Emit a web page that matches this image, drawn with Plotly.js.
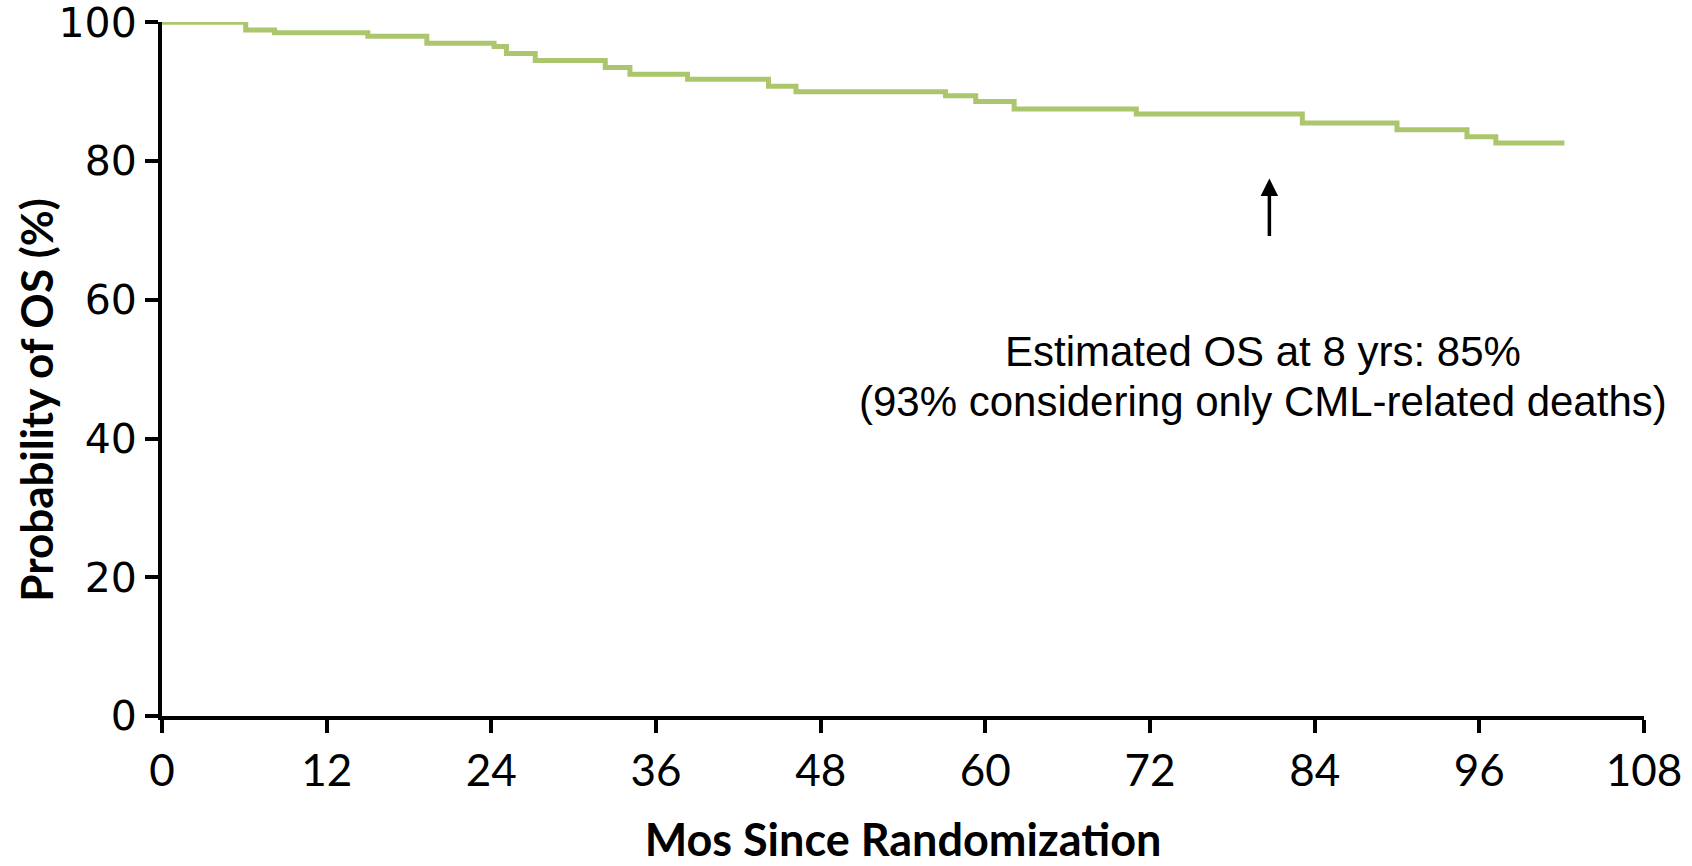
<!DOCTYPE html>
<html>
<head>
<meta charset="utf-8">
<script src="https://cdn.plot.ly/plotly-3.0.1.min.js"></script>
<style>html,body{margin:0;padding:0;background:#fff;}#chart{width:1692px;height:866px;}</style>
</head>
<body>
<div id="chart"></div>
<script>
// Kaplan-Meier step curve (months, OS %)
var months = [0, 6.1, 8.2, 15.0, 19.3, 24.2, 25.1, 27.2, 32.3, 34.1, 38.3, 44.2, 46.2, 57.1, 59.3, 62.1, 71.0, 83.1, 90.0, 95.1, 97.2, 102.2];
var osPct  = [100, 98.9, 98.5, 98.0, 97.0, 96.5, 95.5, 94.5, 93.5, 92.5, 91.8, 90.8, 90.0, 89.4, 88.6, 87.5, 86.8, 85.5, 84.5, 83.5, 82.6, 82.6];
var xTicks = [0, 12, 24, 36, 48, 60, 72, 84, 96, 108];
var yTicks = [0, 20, 40, 60, 80, 100];
var noteLine1 = "Estimated OS at 8 yrs: 85%";
var noteLine2 = "(93% considering only CML-related deaths)";
var yTitle = "Probability of OS (%)";
var xTitle = "Mos Since Randomization";
var arrowAt = {x: 80.7, yTip: 77.5, yTail: 69};

var trace = {
  x: months, y: osPct, type: 'scatter', mode: 'lines',
  line: {shape: 'hv', color: '#abc66c', width: 5},
  cliponaxis: false,
  hoverinfo: 'x+y'
};

var noteFont = {family: 'Liberation Sans, Arial, sans-serif', size: 42, color: '#000'};

var layout = {
  width: 1692, height: 866,
  paper_bgcolor: '#fff', plot_bgcolor: '#fff',
  margin: {l: 162, r: 48, t: 22, b: 150},
  showlegend: false,
  xaxis: {
    range: [0, 108], tickvals: xTicks, ticktext: xTicks.map(String),
    showline: true, linecolor: '#000', linewidth: 4,
    ticks: 'outside', ticklen: 13, tickwidth: 4, tickcolor: '#000',
    showgrid: false, zeroline: false, ticklabeloverflow: 'allow',
    tickfont: {family: 'Liberation Sans Narrow, Lato, sans-serif', size: 44, color: '#000'},
    title: {text: xTitle, standoff: 40,
            font: {family: 'Lato, sans-serif', size: 45, color: '#000', weight: 'bold'}},
    fixedrange: true
  },
  yaxis: {
    range: [0, 100.05], tickvals: yTicks, ticktext: yTicks.map(String),
    showline: true, linecolor: '#000', linewidth: 4,
    ticks: 'outside', ticklen: 13, tickwidth: 4, tickcolor: '#000',
    showgrid: false, zeroline: false, ticklabeloverflow: 'allow',
    tickfont: {family: 'DejaVu Sans, sans-serif', size: 41, color: '#000'},
    fixedrange: true
  },
  annotations: [
    {x: 0, y: 45.6, xref: 'paper', yref: 'y', xanchor: 'center', yanchor: 'middle',
     xshift: -126, text: yTitle, textangle: -90, showarrow: false,
     font: {family: 'Lato, sans-serif', size: 44, color: '#000', weight: 'bold'}},
    {x: 80.2, y: 52.6, xref: 'x', yref: 'y', text: noteLine1, showarrow: false,
     xanchor: 'center', yanchor: 'middle', font: noteFont},
    {x: 80.2, y: 45.3, xref: 'x', yref: 'y', text: noteLine2, showarrow: false,
     xanchor: 'center', yanchor: 'middle', font: noteFont},
    {x: arrowAt.x, y: arrowAt.yTip, ax: arrowAt.x, ay: arrowAt.yTail, xref: 'x', yref: 'y',
     axref: 'x', ayref: 'y', text: '', showarrow: true, arrowhead: 2, arrowsize: 1,
     arrowwidth: 3.5, arrowcolor: '#000'}
  ]
};

Plotly.newPlot('chart', [trace], layout, {displayModeBar: false, staticPlot: true});
</script>
</body>
</html>
